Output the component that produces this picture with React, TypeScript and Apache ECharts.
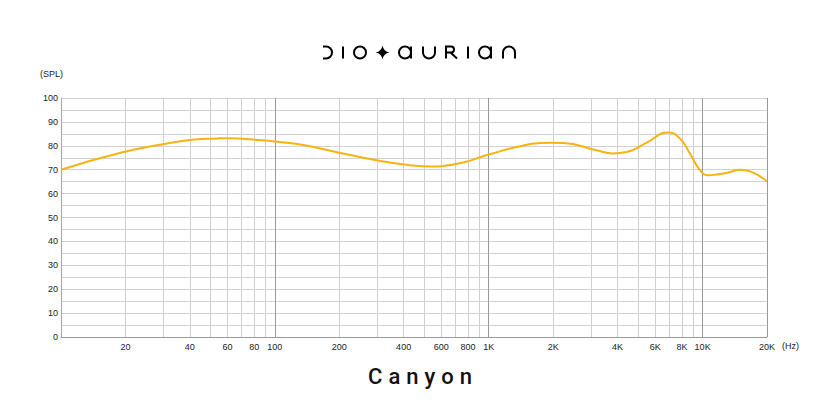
import React, { useEffect, useRef } from "react";
import * as echarts from "echarts";

// Frequency response (Hz / SPL dB)
const freqHz = [10, 19, 31, 42, 54, 60, 87, 102, 138, 193, 312, 432, 541, 659, 775, 940, 1030, 1350, 1740, 1970, 2230, 3200, 3810, 4420, 5480, 6890, 7840, 8730, 9720, 10600, 11640, 13430, 14950, 16660, 20000];
const splDb = [70, 77.1, 80.9, 82.6, 83.1, 83.2, 82.3, 81.7, 80.2, 77.4, 73.6, 71.8, 71.3, 72, 73.2, 75.6, 76.7, 79.5, 81.2, 81.3, 81.2, 78.1, 76.8, 77.4, 81.3, 85.6, 83, 76.7, 69.8, 67.7, 68, 69, 70, 69.3, 65.1];

const xLabelHz = [20, 40, 60, 80, 100, 200, 400, 600, 800, 1000, 2000, 4000, 6000, 8000, 10000, 20000];
const minorGridHz = [20, 30, 40, 50, 60, 70, 80, 90, 200, 300, 400, 500, 600, 700, 800, 900, 2000, 3000, 4000, 5000, 6000, 7000, 8000, 9000];
const majorGridHz = [100, 1000, 10000, 20000];

const titleText = "Canyon";
const yUnit = "(SPL)";
const xUnit = "(Hz)";

const LOGO_D =
  "M0 1 H3 A6 6 0 0 1 3 13 H0 " +
  "M20 1 V13 " +
  "M43 7 A6 6 0 1 1 31 7 A6 6 0 1 1 43 7 " +
  "M88 7 A6 6 0 1 1 76 7 A6 6 0 1 1 88 7 M88 1 V13 " +
  "M100 1 V7 A6 6 0 0 0 112 7 V1 " +
  "M123 13 V1 H128 A3 3 0 0 1 128 7 H123 M127.5 7 L134 13 " +
  "M145 1 V13 " +
  "M168 7 A6 6 0 1 1 156 7 A6 6 0 1 1 168 7 M168 1 V13 " +
  "M180 13 V7 A6 6 0 0 1 192 7 V13";
const STAR_D = "M59.5 0 Q60.5 6 66.5 7 Q60.5 8 59.5 14 Q58.5 8 52.5 7 Q58.5 6 59.5 0 Z";

const FONT = "Arial, 'Liberation Sans', Helvetica, sans-serif";

export default function App() {
  const ref = useRef<HTMLDivElement>(null);
  useEffect(() => {
    if (!ref.current) return;
    echarts.graphic.registerShape("dioLogo", echarts.graphic.extendPath(LOGO_D, {}));
    echarts.graphic.registerShape("dioStar", echarts.graphic.extendPath(STAR_D, {}));
    const chart = echarts.init(ref.current, null, { renderer: "svg" });
    const curve = freqHz.map((f, i) => [f, splDb[i]]);
    chart.setOption({
      animation: false,
      grid: { left: 61, top: 98, width: 706, height: 239, containLabel: false },
      xAxis: {
        type: "log",
        logBase: 10,
        min: 10,
        max: 20000,
        axisLine: { show: true, lineStyle: { color: "#9a9a9a", width: 1 } },
        axisTick: { show: false },
        splitLine: { show: false },
        minorSplitLine: { show: false },
        axisLabel: {
          customValues: xLabelHz,
          margin: 5,
          fontSize: 9,
          color: "#222",
          fontFamily: FONT,
          formatter: (v: number) => (v >= 1000 ? v / 1000 + "K" : String(v)),
        },
      },
      yAxis: {
        type: "value",
        min: 0,
        max: 100,
        interval: 5,
        axisLine: { show: true, lineStyle: { color: "#a8a8a8", width: 1 } },
        axisTick: { show: false },
        splitLine: { show: true, lineStyle: { color: "#d2d2d2", width: 1 } },
        axisLabel: {
          margin: 3,
          fontSize: 9,
          color: "#222",
          fontFamily: FONT,
          formatter: (v: number) => (v % 10 === 0 ? String(v) : ""),
        },
      },
      series: [
        {
          type: "line",
          data: curve,
          silent: true,
          showSymbol: false,
          symbol: "none",
          lineStyle: { opacity: 0, width: 0 },
          z: 1,
          markLine: {
            silent: true,
            z: 1,
            symbol: ["none", "none"],
            label: { show: false },
            emphasis: { disabled: true },
            data: [
              ...minorGridHz.map((f) => ({ xAxis: f, lineStyle: { color: "#cfcfcf", width: 1, type: "solid" } })),
              ...majorGridHz.map((f) => ({ xAxis: f, lineStyle: { color: "#999999", width: 1, type: "solid" } })),
            ],
          },
        },
        {
          type: "line",
          data: curve,
          smooth: 0.5,
          silent: true,
          showSymbol: false,
          symbol: "none",
          lineStyle: { color: "#F9B310", width: 2 },
          z: 3,
        },
      ],
      graphic: [
        { type: "dioLogo", x: 323, y: 45.5, style: { fill: "none", stroke: "#000", lineWidth: 2 } },
        { type: "dioStar", x: 323, y: 45.5, style: { fill: "#000", stroke: "none" } },
        {
          type: "text",
          x: 51.5,
          y: 73.5,
          style: { text: yUnit, fill: "#222", fontSize: 9, fontFamily: FONT, align: "center", verticalAlign: "middle" },
        },
        {
          type: "text",
          x: 790.5,
          y: 345.5,
          style: { text: xUnit, fill: "#222", fontSize: 9, fontFamily: FONT, align: "center", verticalAlign: "middle" },
        },
        {
          type: "text",
          x: 423,
          y: 376,
          style: { text: titleText, fill: "#111", fontSize: 22, fontWeight: 500, fontFamily: "Roboto, " + FONT, align: "center", verticalAlign: "middle" },
        },
      ],
    });
    const spaceTitle = () => {
      ref.current?.querySelectorAll("text").forEach((t) => {
        if (t.textContent === titleText) {
          t.setAttribute("letter-spacing", "6");
          (t as SVGTextElement).style.letterSpacing = "6px";
        }
      });
    };
    spaceTitle();
    chart.on("finished", spaceTitle);
    return () => chart.dispose();
  }, []);
  return <div ref={ref} style={{ position: "absolute", left: 0, top: 0, width: 840, height: 420 }} />;
}
